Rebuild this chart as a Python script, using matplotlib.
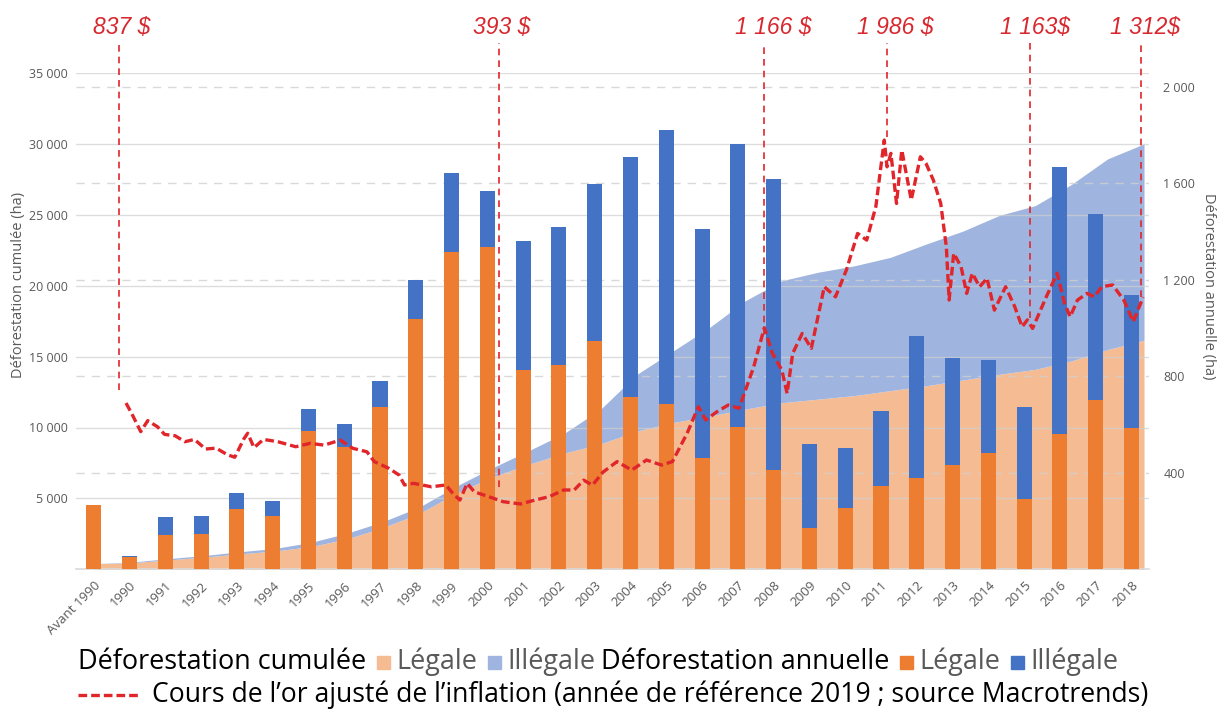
import matplotlib
matplotlib.use('Agg')
import matplotlib.pyplot as plt
import numpy as np
from matplotlib.patches import Rectangle
from matplotlib.lines import Line2D

# ---------------- data ----------------
categories = ['Avant 1990'] + [str(y) for y in range(1990, 2019)]

annual_legal = [265, 49, 143, 147, 251, 221, 574, 507, 673, 1037, 1316, 1336, 827, 849, 947,
                715, 685, 463, 592, 411, 170, 256, 346, 380, 433, 484, 293, 563, 701, 585]
annual_illegal = [0, 8, 74, 72, 66, 64, 91, 97, 108, 162, 327, 233, 534, 570, 650,
                  993, 1136, 950, 1171, 1208, 351, 246, 311, 587, 445, 385, 379, 1106, 772, 553]

cum_legal = [400, 450, 650, 850, 1080, 1290, 1600, 2150, 2950, 3950, 5350, 6500, 7400, 8200, 8850,
             9750, 10350, 10800, 11300, 11750, 12000, 12250, 12600, 12950, 13350, 13750, 14100,
             14700, 15500, 16150]
cum_illegal = [0, 50, 90, 110, 150, 180, 300, 400, 420, 450, 500, 650, 950, 1400, 2450,
               4000, 5050, 6250, 7650, 8600, 8950, 9150, 9400, 10000, 10500, 11200, 11550,
               12450, 13450, 13850]

gold_t = [1990.00, 1990.16, 1990.42, 1990.62, 1990.90, 1991.10, 1991.40, 1991.68, 1991.95, 1992.27,
          1992.57, 1992.88, 1993.10, 1993.36, 1993.47, 1993.65, 1993.92, 1994.33, 1994.84, 1995.25,
          1995.65, 1996.11, 1996.47, 1996.87, 1997.08, 1997.49, 1997.79, 1997.94, 1998.20, 1998.71,
          1999.12, 1999.32, 1999.52, 1999.73, 1999.93, 2000.34, 2000.75, 2001.25, 2001.66, 2002.07,
          2002.48, 2002.78, 2003.05, 2003.30, 2003.60, 2004.00, 2004.42, 2004.84, 2005.27, 2005.58,
          2006.00, 2006.32, 2006.53, 2006.85, 2007.17, 2007.48, 2007.90, 2008.20, 2008.43, 2008.70,
          2008.85, 2009.01, 2009.28, 2009.54, 2009.91, 2010.23, 2010.54, 2010.86, 2011.12, 2011.38,
          2011.62, 2011.70, 2011.81, 2011.97, 2012.12, 2012.39, 2012.65, 2012.81, 2013.02, 2013.23,
          2013.39, 2013.47, 2013.60, 2013.81, 2013.97, 2014.13, 2014.34, 2014.55, 2014.76, 2015.08,
          2015.34, 2015.55, 2015.70, 2015.85, 2016.24, 2016.55, 2016.76, 2016.92, 2017.13, 2017.40,
          2017.61, 2017.82, 2018.13, 2018.45, 2018.72, 2019.00]
gold_v = [837, 792, 712, 760, 733, 700, 694, 668, 678, 636,
          640, 612, 600, 680, 705, 642, 678, 668, 646, 661,
          653, 675, 639, 624, 581, 552, 522, 479, 486, 471,
          479, 442, 413, 486, 449, 428, 406, 396, 413, 428,
          457, 457, 500, 478, 535, 581, 544, 588, 566, 581,
          705, 821, 763, 799, 828, 814, 996, 1166, 1054, 981,
          879, 1054, 1141, 1076, 1345, 1301, 1418, 1578, 1549, 1695,
          1986, 1869, 1928, 1709, 1942, 1724, 1913, 1884, 1811, 1709,
          1520, 1287, 1491, 1433, 1316, 1404, 1345, 1382, 1243, 1345,
          1258, 1170, 1200, 1163, 1301, 1404, 1273, 1214, 1287, 1316,
          1301, 1345, 1353, 1287, 1192, 1300]

gold_marks_t = [1989.79, 2000.63, 2008.19, 2011.69, 2015.77, 2018.94]
gold_marks_label = ['837 $', '393 $', '1 166 $', '1 986 $', '1 163$', '1 312$']
gold_marks_end = [894, 470, 1140, 2000, 1210, 1300]

legend_row1 = [('text', 'Déforestation cumulée', 'black'),
               ('square', None, '#F5BC94'), ('text', 'Légale', '#595959'),
               ('square', None, '#9FB5DF'), ('text', 'Illégale', '#595959'),
               ('text', 'Déforestation annuelle', 'black'),
               ('square', None, '#ED7D31'), ('text', 'Légale', '#595959'),
               ('square', None, '#4472C4'), ('text', 'Illégale', '#595959')]
legend_row2 = 'Cours de l\u2019or ajusté de l\u2019inflation (année de référence 2019 ; source Macrotrends)'

# ---------------- style ----------------
C_LEG = '#ED7D31'
C_ILL = '#4472C4'
C_LEG_A = '#F5BC94'
C_ILL_A = '#9FB5DF'
C_RED = '#E0252B'
C_TXT = '#595959'
FONT = ['Open Sans', 'DejaVu Sans']

W, H = 1218, 711
fig = plt.figure(figsize=(W / 100, H / 100), dpi=100)

def fx(px):
    return px / W

def fy(py):
    return 1 - py / H

L, R, T, B = 75.8, 1149.4, 73.0, 569.3
rect = [fx(L), fy(B), (R - L) / W, (B - T) / H]

ax = fig.add_axes(rect)
ax2 = ax.twinx()
x = np.arange(len(categories))

ax.set_xlim(-0.5, len(categories) - 0.5)
ax.set_ylim(0, 35000)
ax2.set_ylim(0, 2058)

# cumulative areas (left axis)
area_x = x * (29.35 / 29)
cl = np.array(cum_legal)
ci = np.array(cum_illegal)
ax.fill_between(area_x, 0, cl, color=C_LEG_A, lw=0, zorder=1)
ax.fill_between(area_x, cl, cl + ci, color=C_ILL_A, lw=0, zorder=1)

# annual bars (right axis)
ax2.bar(x, annual_legal, width=0.42, color=C_LEG, zorder=3)
ax2.bar(x, annual_illegal, bottom=annual_legal, width=0.42, color=C_ILL, zorder=3)

# grids & ticks
ax.set_axisbelow(False)
ax.set_yticks(range(5000, 35001, 5000))
ax.set_yticklabels([f"{v:,}".replace(',', ' ') for v in range(5000, 35001, 5000)],
                   fontsize=9, color=C_TXT, family=FONT)
ax.yaxis.grid(True, color='#CFCFCF', lw=1.0, alpha=0.7, zorder=2)
ax2.set_yticks([400, 800, 1200, 1600, 2000])
ax2.set_yticklabels(['400', '800', '1 200', '1 600', '2 000'], fontsize=9, color=C_TXT, family=FONT)
ax2.set_axisbelow(True)
ax2.yaxis.grid(True, color='#D0D0D0', lw=1.0, linestyle=(0, (6, 5)), alpha=0.8)

ax.tick_params(axis='y', length=0, pad=6)
ax2.tick_params(axis='y', length=0, pad=10)
ax.set_xticks(x)
ax.set_xticklabels(categories, rotation=45, ha='right', va='top', rotation_mode='anchor',
                   fontsize=9.5, color=C_TXT, family=FONT)
ax.tick_params(axis='x', length=0, pad=7)

for s in ['left', 'right', 'top']:
    ax.spines[s].set_visible(False)
    ax2.spines[s].set_visible(False)
ax2.spines['bottom'].set_visible(False)
ax.spines['bottom'].set_color('#D9D9D9')
ax.spines['bottom'].set_linewidth(1.2)

ax.set_ylabel('Déforestation cumulée (ha)', fontsize=10.5, color=C_TXT, family=FONT, va='center')
ax.yaxis.set_label_coords((19 - L) / (R - L), 0.573)
ax2.set_ylabel('Déforestation annuelle (ha)', fontsize=10.5, color=C_TXT, family=FONT,
               rotation=-90, va='center')
ax2.yaxis.set_label_coords((1208 - L) / (R - L), 0.57)

# gold line (own hidden axes)
ax3 = fig.add_axes(rect, frameon=False)
ax3.set_xlim(1988.569, 2019.18)
ax3.set_ylim(110.5, 2279)
ax3.axis('off')
ax3.patch.set_alpha(0)
ax3.plot(gold_t, gold_v, color=C_RED, lw=2.4, dashes=(2.6, 1.2), solid_capstyle='butt',
         dash_capstyle='butt', zorder=5)
for t, lab, end in zip(gold_marks_t, gold_marks_label, gold_marks_end):
    ax3.plot([t, t], [end, 2410], color=C_RED, lw=1.2, dashes=(4, 3), clip_on=False, zorder=4)

label_px = [122, 502, 773, 895, 1035, 1145]
for px, lab in zip(label_px, gold_marks_label):
    fig.text(fx(px), fy(28), lab, ha='center', va='center', fontsize=16.5, style='italic',
             color='#D7282F', family=['Liberation Sans', 'DejaVu Sans'])

# ---------------- legend ----------------
fig.canvas.draw()
renderer = fig.canvas.get_renderer()
BASE_FS = 16.0
SQ = 13
GAP_BEFORE_SQ = 11
GAP_AFTER_SQ = 6
GAP_TEXT = 6

def text_width(s, fs):
    t = fig.text(0, 0, s, fontsize=fs, family=FONT)
    w = t.get_window_extent(renderer=renderer).width
    t.remove()
    return w

# row 1: fit between x=78 and x=1120
text_sum = sum(text_width(s, BASE_FS) for kind, s, c in legend_row1 if kind == 'text')
n_sq = sum(1 for kind, s, c in legend_row1 if kind == 'square')
fixed = n_sq * (SQ + GAP_BEFORE_SQ + GAP_AFTER_SQ) + GAP_TEXT
fs1 = BASE_FS * (1120 - 78 - fixed) / text_sum

row1 = fy(662)
cur = 78
prev = None
for kind, s, c in legend_row1:
    if kind == 'text':
        if prev == 'text':
            cur += GAP_TEXT
        t = fig.text(fx(cur), row1, s, ha='left', va='center', fontsize=fs1, color=c, family=FONT)
        cur += t.get_window_extent(renderer=renderer).width
    else:
        cur += GAP_BEFORE_SQ
        fig.patches.append(Rectangle((fx(cur), row1 - (SQ / 2) / H), SQ / W, SQ / H,
                                     transform=fig.transFigure, color=c, figure=fig))
        cur += SQ + GAP_AFTER_SQ
    prev = kind

# row 2: fit text between x=152 and x=1148
fs2 = BASE_FS * (1148 - 152) / text_width(legend_row2, BASE_FS)
row2 = fy(695)
fig.lines.append(Line2D([fx(78), fx(141)], [row2, row2], transform=fig.transFigure, color=C_RED,
                        lw=2.4, dashes=(2.6, 1.2), figure=fig))
fig.text(fx(152), row2, legend_row2, ha='left', va='center', fontsize=fs2, color='black', family=FONT)

fig.savefig('out.png', dpi=100)
